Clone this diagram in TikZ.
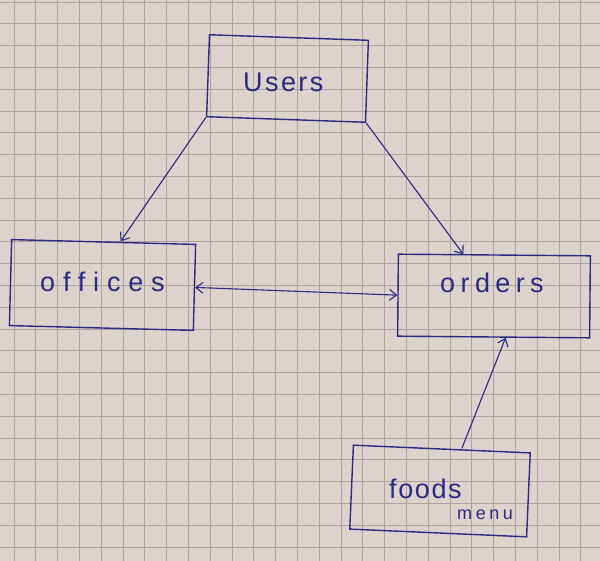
\documentclass[tikz,border=0pt]{standalone}
\usepackage{fontspec}
\setmainfont{Liberation Sans}
\usetikzlibrary{arrows.meta,calc}
\definecolor{paper}{RGB}{220,211,204}
\definecolor{gridc}{RGB}{172,162,158}
\definecolor{ink}{RGB}{42,42,128}
\newcommand{\handfont}[2]{\fontsize{#1}{#1}\selectfont\addfontfeature{LetterSpace=#2}}
\begin{document}
\begin{tikzpicture}[x=1pt,y=-1pt,
  box/.style={draw=ink, line width=1.4pt, rectangle, inner sep=0pt},
  hand/.style={text=ink, anchor=base west, inner sep=0pt},
  conn/.style={draw=ink, line width=1.1pt, -{Straight Barb[length=7pt,width=11pt]}},
  conn2/.style={draw=ink, line width=1.1pt, {Straight Barb[length=7pt,width=11pt]}-{Straight Barb[length=7pt,width=11pt]}},
]
\fill[paper] (0,0) rectangle (600,561);
\useasboundingbox (0,0) rectangle (600,561);
\foreach \k in {0,...,27} {
  \draw[gridc, line width=0.8pt] ({14+21.8*\k},0) -- ({14+21.8*\k},561);
}
\foreach \k in {0,...,25} {
  \draw[gridc, line width=0.8pt] (0,{2+21.8*\k}) -- (600,{2+21.8*\k});
}

% boxes
\node[box, minimum width=159pt, minimum height=82pt, rotate=-2] (users) at (287.5,78.5) {};
\node[box, minimum width=184pt, minimum height=86pt, rotate=-1.5] (offices) at (102.5,285) {};
\node[box, minimum width=192pt, minimum height=82pt, rotate=-0.5] (orders) at (494,296) {};
\node[box, minimum width=177pt, minimum height=84pt, rotate=-2.5] (foods) at (440,491) {};

% texts
\node[hand, font=\handfont{27}{9}] (tusers) at (243,92) {Users};
\node[hand, font=\handfont{27}{29}] (toffices) at (40,292) {offices};
\node[hand, font=\handfont{27}{20}] (torders) at (440,293) {orders};
\node[hand, font=\handfont{27}{6}] (tfoods) at (389,498) {foods};
\node[hand, font=\handfont{18}{20}] (tmenu) at (457,519) {menu};

% connectors
\draw[conn] (users.south west) -- ([xshift=17pt]offices.north);
\draw[conn] (users.south east) -- ([xshift=-31pt]orders.north);
\draw[conn2] (offices.east) -- (orders.west);
\draw[conn] ([xshift=20pt]foods.north) -- ([xshift=12pt]orders.south);
\end{tikzpicture}
\end{document}
